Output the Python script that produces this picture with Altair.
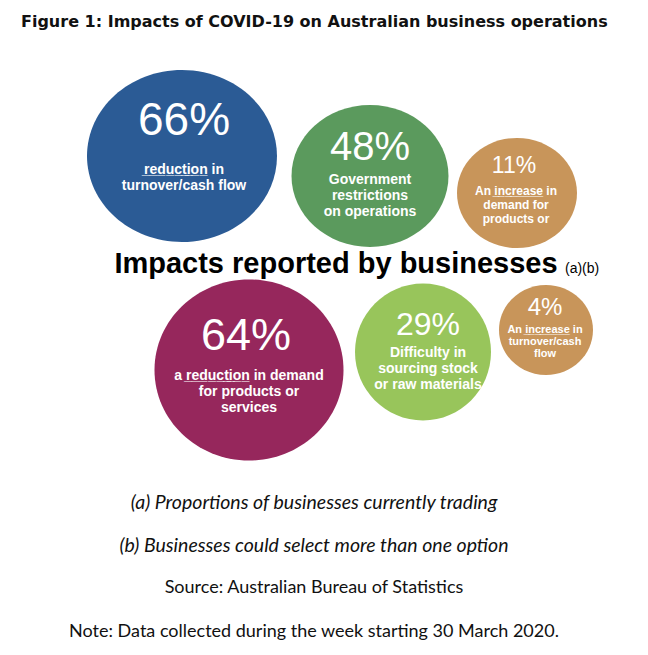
import altair as alt
import pandas as pd

# ---------------- data ----------------
values = [66, 48, 11, 64, 29, 4]
descriptions = [
    ["reduction in", "turnover/cash flow"],
    ["Government", "restrictions", "on operations"],
    ["An increase in", "demand for", "products or"],
    ["a reduction in demand", "for products or", "services"],
    ["Difficulty in", "sourcing stock", "or raw materials"],
    ["An increase in", "turnover/cash", "flow"],
]
underlined = ["reduction", None, "increase", "reduction", None, "increase"]
colors = ["#2b5b95", "#5b9a5d", "#c8955a", "#96275c", "#98c55b", "#c8955a"]

title_text = "Figure 1: Impacts of COVID-19 on Australian business operations"
heading_text = "Impacts reported by businesses"
heading_note = "(a)(b)"
footnotes_italic = ["(a) Proportions of businesses currently trading",
                    "(b) Businesses could select more than one option"]
footnotes_plain = ["Source: Australian Bureau of Statistics",
                   "Note: Data collected during the week starting 30 March 2020."]

# ---------------- layout (page units) ----------------
bubble_x = [182, 370, 517, 249, 423, 546]
bubble_y = [156, 176, 193, 370, 352, 330]
bubble_w = [190, 157, 120, 189, 136, 94]
bubble_h = [172, 142, 110, 181, 137, 90]

pct_x = [184, 370, 514, 246, 428, 545]
pct_base = [135, 160, 173, 350, 335, 315]
pct_size = [46, 40, 23, 45, 32, 24]

desc_x = [184, 370, 516, 249, 428, 545]
desc_base = [174, 184, 195, 380, 357, 333]
desc_step = [16, 16, 14, 16, 16, 12]
desc_size = [14, 14, 12, 14, 14, 11]

foot_y = [509, 552, 593, 637]
foot_x = 314


def ellipse(w, h):
    k = round(h / w, 3)
    return f"M-1,0A1,{k},0,1,0,1,0A1,{k},0,1,0,-1,0Z"


def underline(line, word):
    if word and word in line:
        return line.replace(word, "".join(c + "\u0332" for c in word), 1)
    return line


bubbles = pd.DataFrame({
    "x": bubble_x, "y": bubble_y,
    "size": [w * w for w in bubble_w],
    "shape": [ellipse(w, h) for w, h in zip(bubble_w, bubble_h)],
    "color": colors,
    "value": values,
})

pcts = pd.DataFrame({
    "x": pct_x, "y": pct_base, "size": pct_size,
    "label": [f"{v}%" for v in values],
})

rows = []
for i, lines in enumerate(descriptions):
    for j, line in enumerate(lines):
        rows.append({"x": desc_x[i], "y": desc_base[i] + j * desc_step[i],
                     "size": desc_size[i], "label": underline(line, underlined[i])})
descs = pd.DataFrame(rows)

X = alt.X("x:Q", scale=alt.Scale(domain=[8, 640], nice=False, zero=False), axis=None)
Y = alt.Y("y:Q", scale=alt.Scale(domain=[644, 8], nice=False, zero=False), axis=None)

bubble_layer = alt.Chart(bubbles).mark_point(filled=True, opacity=1, strokeWidth=0).encode(
    x=X, y=Y,
    size=alt.Size("size:Q", scale=None, legend=None),
    shape=alt.Shape("shape:N", scale=None, legend=None),
    color=alt.Color("color:N", scale=None, legend=None),
)

pct_layer = alt.Chart(pcts).mark_text(
    font="Liberation Sans", color="white", align="center", baseline="alphabetic"
).encode(x=X, y=Y, text="label:N", size=alt.Size("size:Q", scale=None, legend=None))

desc_layer = alt.Chart(descs).mark_text(
    font="Liberation Sans", fontWeight="bold", color="white", align="center", baseline="alphabetic"
).encode(x=X, y=Y, text="label:N", size=alt.Size("size:Q", scale=None, legend=None))

title_layer = alt.Chart(pd.DataFrame({"x": [21], "y": [27], "label": [title_text]})).mark_text(
    font="DejaVu Sans", fontWeight="bold", fontSize=16, color="#111111", align="left", baseline="alphabetic"
).encode(x=X, y=Y, text="label:N")

heading_layer = alt.Chart(pd.DataFrame({"x": [336], "y": [273], "label": [heading_text]})).mark_text(
    font="Liberation Sans", fontWeight="bold", fontSize=29, color="#000000", align="center", baseline="alphabetic"
).encode(x=X, y=Y, text="label:N")

note_layer = alt.Chart(pd.DataFrame({"x": [565], "y": [273], "label": [heading_note]})).mark_text(
    font="Liberation Sans", fontSize=14, color="#000000", align="left", baseline="alphabetic"
).encode(x=X, y=Y, text="label:N")

foot_i = alt.Chart(pd.DataFrame({"x": [foot_x, foot_x], "y": foot_y[:2], "label": footnotes_italic})).mark_text(
    font="Lato", fontStyle="italic", fontSize=19.5, color="#111111", align="center", baseline="alphabetic"
).encode(x=X, y=Y, text="label:N")

foot_p = alt.Chart(pd.DataFrame({"x": [foot_x, foot_x], "y": foot_y[2:], "label": footnotes_plain})).mark_text(
    font="Lato", fontSize=18, color="#111111", align="center", baseline="alphabetic"
).encode(x=X, y=Y, text="label:N")

chart = alt.layer(
    bubble_layer, pct_layer, desc_layer, title_layer, heading_layer, note_layer, foot_i, foot_p
).properties(
    width=632, height=636, padding=0, autosize="none", background="white"
).configure_view(stroke=None)

chart.save("out.html", embed_options={"renderer": "svg", "actions": False})
